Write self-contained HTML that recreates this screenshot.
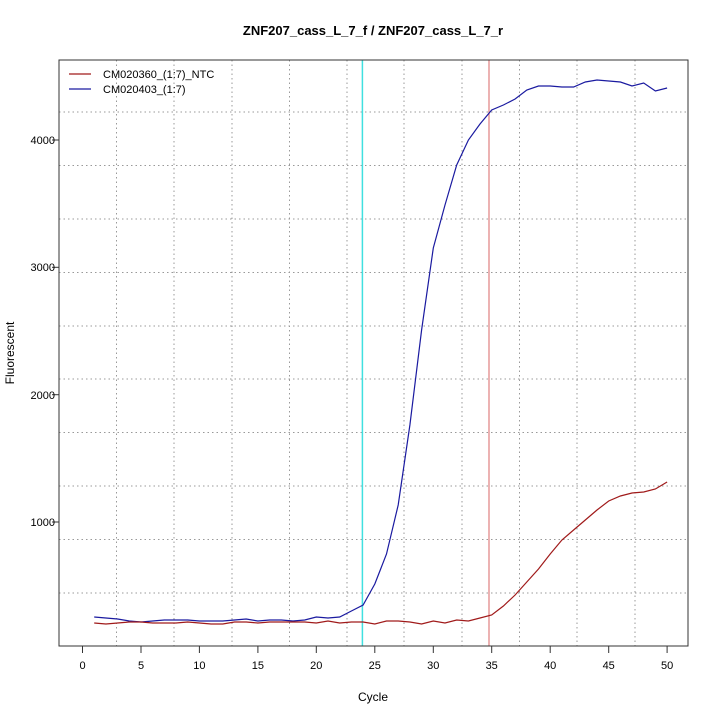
<!DOCTYPE html>
<html><head><meta charset="utf-8"><style>body{margin:0;background:#fff}svg{display:block}text{font-family:"Liberation Sans",sans-serif}</style></head><body>
<svg width="720" height="720" viewBox="0 0 720 720">
<rect width="720" height="720" fill="#fff"/>
<g stroke="#999" stroke-dasharray="1.5,3" stroke-width="1">
<line x1="116.5" y1="60" x2="116.5" y2="646"/><line x1="174" y1="60" x2="174" y2="646"/><line x1="232" y1="60" x2="232" y2="646"/><line x1="289.5" y1="60" x2="289.5" y2="646"/><line x1="347" y1="60" x2="347" y2="646"/><line x1="404" y1="60" x2="404" y2="646"/><line x1="462" y1="60" x2="462" y2="646"/><line x1="519.5" y1="60" x2="519.5" y2="646"/><line x1="577" y1="60" x2="577" y2="646"/><line x1="635" y1="60" x2="635" y2="646"/>
<line x1="59" y1="112" x2="688" y2="112"/><line x1="59" y1="165.5" x2="688" y2="165.5"/><line x1="59" y1="219" x2="688" y2="219"/><line x1="59" y1="272.5" x2="688" y2="272.5"/><line x1="59" y1="326" x2="688" y2="326"/><line x1="59" y1="379" x2="688" y2="379"/><line x1="59" y1="432.5" x2="688" y2="432.5"/><line x1="59" y1="486" x2="688" y2="486"/><line x1="59" y1="539.5" x2="688" y2="539.5"/><line x1="59" y1="593" x2="688" y2="593"/>
</g>
<line x1="362.4" y1="60" x2="362.4" y2="646" stroke="#40e0e0" stroke-width="1.5"/>
<line x1="489" y1="60" x2="489" y2="646" stroke="#e08080" stroke-width="1.2"/>
<rect x="59" y="60" width="629" height="586" fill="none" stroke="#333" stroke-width="1"/>
<polyline fill="none" stroke="#1a1aa0" stroke-width="1.2" points="94.2,617 105.9,618 117.6,619 129.3,621 141,622 152.6,621 164.3,620 176,620 187.7,620 199.4,621 211.1,621 222.8,621 234.5,620 246.2,619 257.9,621 269.6,620 281.3,620 293,621 304.7,620 316.3,617 328,618 339.7,617 351.4,611 363.1,605 374.8,584 386.5,554 398.2,505 409.9,425 421.6,330 433.3,248 445,205 456.7,165 468.4,140 480,124 491.7,110 503.4,105 515.1,99 526.8,90 538.5,86 550.2,86 561.9,87 573.6,87 585.3,82 597,80 608.7,81 620.4,82 632,86 643.7,83 655.4,91 667.1,88"/>
<polyline fill="none" stroke="#a01a1a" stroke-width="1.2" points="94.2,623 105.9,624 117.6,623 129.3,622 141,622 152.6,623 164.3,623 176,623 187.7,622 199.4,623 211.1,624 222.8,624 234.5,622 246.2,622 257.9,623 269.6,622 281.3,622 293,622 304.7,622 316.3,623 328,621 339.7,623 351.4,622 363.1,622 374.8,624 386.5,621 398.2,621 409.9,622 421.6,624 433.3,621 445,623 456.7,620 468.4,621 480,618 491.7,615 503.4,606 515.1,595 526.8,582 538.5,569 550.2,554 561.9,540 573.6,530 585.3,520 597,510 608.7,501 620.4,496 632,493 643.7,492 655.4,489 667.1,482"/>
<g stroke="#333">
<line x1="82.5" y1="646" x2="82.5" y2="653"/><line x1="141" y1="646" x2="141" y2="653"/><line x1="199.4" y1="646" x2="199.4" y2="653"/><line x1="257.9" y1="646" x2="257.9" y2="653"/><line x1="316.3" y1="646" x2="316.3" y2="653"/><line x1="374.8" y1="646" x2="374.8" y2="653"/><line x1="433.3" y1="646" x2="433.3" y2="653"/><line x1="491.7" y1="646" x2="491.7" y2="653"/><line x1="550.2" y1="646" x2="550.2" y2="653"/><line x1="608.7" y1="646" x2="608.7" y2="653"/><line x1="667.1" y1="646" x2="667.1" y2="653"/>
<line x1="52" y1="522" x2="59" y2="522"/><line x1="52" y1="394.7" x2="59" y2="394.7"/><line x1="52" y1="267.3" x2="59" y2="267.3"/><line x1="52" y1="140" x2="59" y2="140"/>
</g>
<g font-size="11" fill="#000" text-anchor="middle">
<text x="82.5" y="669">0</text><text x="141" y="669">5</text><text x="199.4" y="669">10</text><text x="257.9" y="669">15</text><text x="316.3" y="669">20</text><text x="374.8" y="669">25</text><text x="433.3" y="669">30</text><text x="491.7" y="669">35</text><text x="550.2" y="669">40</text><text x="608.7" y="669">45</text><text x="667.1" y="669">50</text>
</g>
<g font-size="11" fill="#000" text-anchor="end">
<text x="55" y="526">1000</text><text x="55" y="399">2000</text><text x="55" y="271">3000</text><text x="55" y="144">4000</text>
</g>
<text x="373" y="35" font-size="13" font-weight="bold" text-anchor="middle">ZNF207_cass_L_7_f / ZNF207_cass_L_7_r</text>
<text x="373" y="701" font-size="12" text-anchor="middle">Cycle</text>
<text transform="translate(14,353) rotate(-90)" font-size="12" text-anchor="middle">Fluorescent</text>
<line x1="69" y1="74" x2="91" y2="74" stroke="#a01a1a" stroke-width="1.2"/>
<line x1="69" y1="89" x2="91" y2="89" stroke="#1a1aa0" stroke-width="1.2"/>
<g font-size="11" fill="#000"><text x="103" y="78">CM020360_(1:7)_NTC</text><text x="103" y="93">CM020403_(1:7)</text></g>
</svg>
</body></html>
